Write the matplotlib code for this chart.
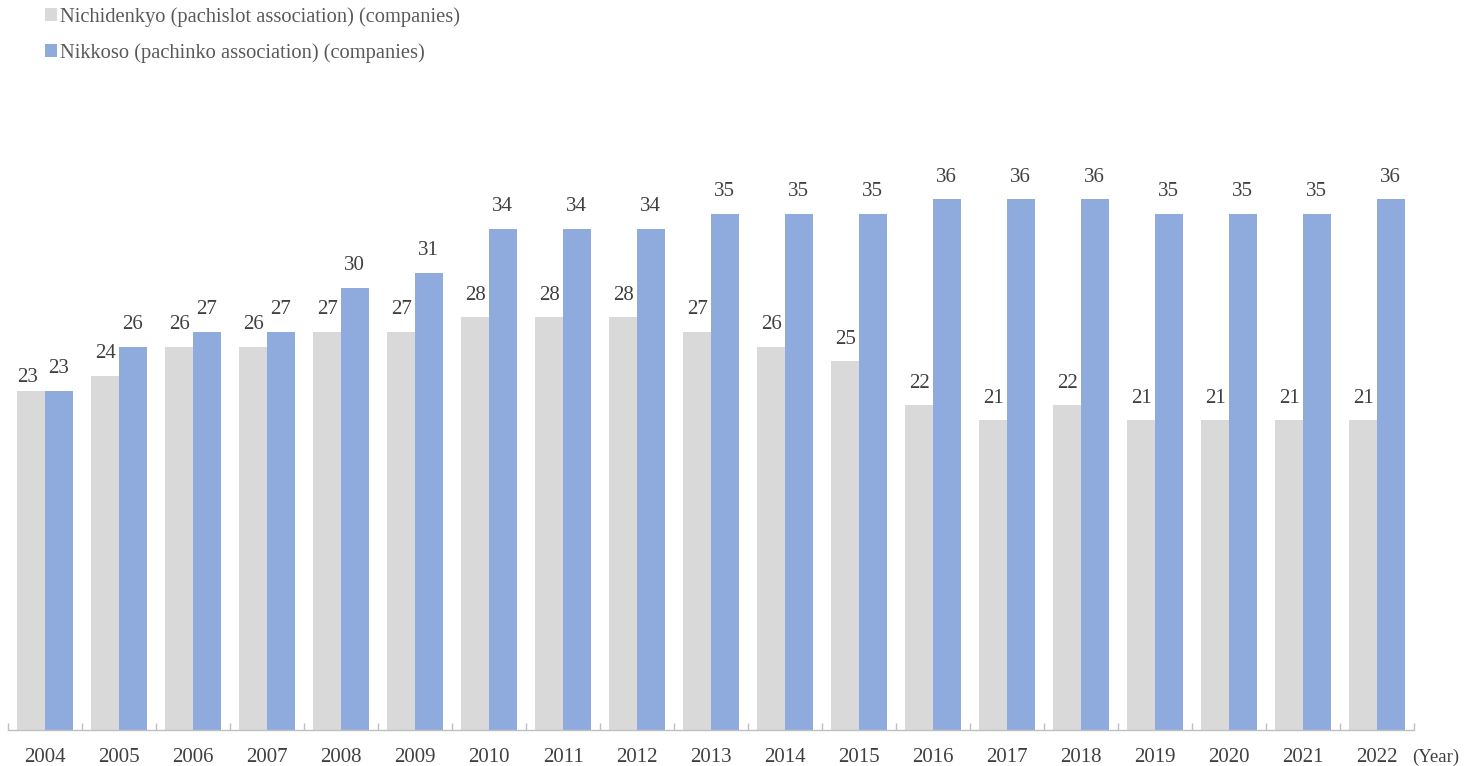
import matplotlib
matplotlib.use("Agg")
import matplotlib.pyplot as plt
import numpy as np

years = ["2004", "2005", "2006", "2007", "2008", "2009", "2010", "2011", "2012", "2013",
         "2014", "2015", "2016", "2017", "2018", "2019", "2020", "2021", "2022"]
nichidenkyo = [23, 24, 26, 26, 27, 27, 28, 28, 28, 27, 26, 25, 22, 21, 22, 21, 21, 21, 21]
nikkoso = [23, 26, 27, 27, 30, 31, 34, 34, 34, 35, 35, 35, 36, 36, 36, 35, 35, 35, 36]
series_names = ["Nichidenkyo (pachislot association) (companies)",
                "Nikkoso (pachinko association) (companies)"]

plt.rcParams['font.family'] = ['Liberation Serif', 'DejaVu Serif']

W, H = 1469, 766
fig = plt.figure(figsize=(W / 100, H / 100), dpi=100)
left, right, bottom = 8, 1414, 729.5
ymax = 40
top = bottom - ymax * 14.73
ax = fig.add_axes([left / W, 1 - bottom / H, (right - left) / W, (bottom - top) / H])

x = np.arange(len(years))
bw = 0.372
b1 = ax.bar(x - bw / 2, nichidenkyo, bw, color="#D9D9D9", label=series_names[0])
b2 = ax.bar(x + bw / 2, nikkoso, bw, color="#8FAADC", label=series_names[1])
l1 = ax.bar_label(b1, padding=9, fontsize=15, color="#404040")
l2 = ax.bar_label(b2, padding=9, fontsize=15, color="#404040")
# first grey label is nudged down/left to avoid overlapping its neighbour
l1[0].xyann = (-3, 2.5)

ax.set_xlim(-0.5, len(years) - 0.5)
ax.set_ylim(0, ymax)
ax.set_xticks(x)
ax.set_xticklabels(years, fontsize=15, color="#404040")
ax.set_xticks(np.arange(-0.5, len(years), 1.0), minor=True)
ax.tick_params(axis='x', which='major', length=0, pad=13)
ax.tick_params(axis='x', which='minor', length=5, direction='in', color="#BFBFBF", width=1)
ax.set_yticks([])
for s in ["top", "right", "left"]:
    ax.spines[s].set_visible(False)
ax.spines["bottom"].set_color("#BFBFBF")
ax.spines["bottom"].set_linewidth(1)

fig.text(1412 / W, 1 - 757 / H, "(Year)", fontsize=13.5, color="#404040", ha="left", va="center")

leg = fig.legend(handles=[b1, b2], loc="upper left", bbox_to_anchor=(37 / W, 1 + 1 / H),
                 frameon=False, fontsize=14.8, handlelength=0.58, handleheight=0.58,
                 handletextpad=0.15, labelspacing=0.8, borderaxespad=0)
for t in leg.get_texts():
    t.set_color("#595959")

fig.savefig("out.png", dpi=100)
